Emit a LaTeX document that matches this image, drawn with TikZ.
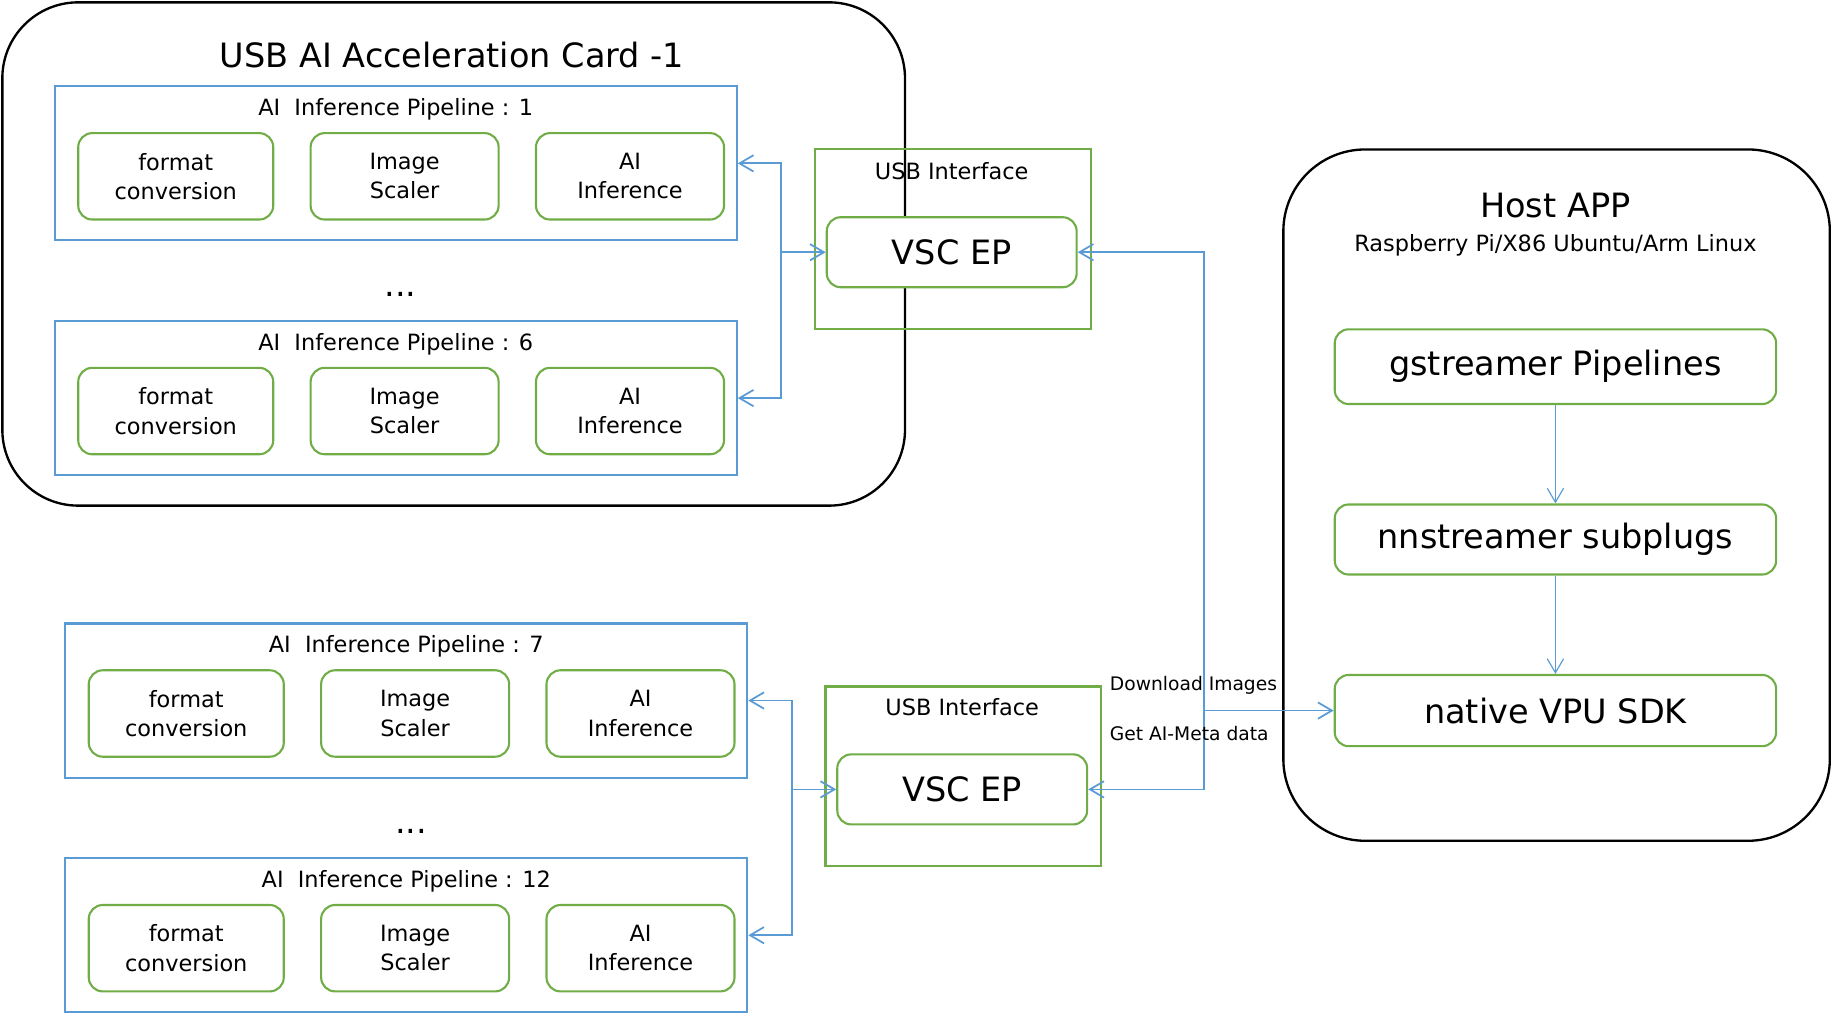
\documentclass[tikz,border=0pt]{standalone}
\usepackage{fontspec}
\setmainfont{DejaVu Sans}
\usepackage{tikz}
\usetikzlibrary{positioning,calc,arrows.meta}
\definecolor{pipeblue}{HTML}{5B9BD5}
\definecolor{stagegreen}{HTML}{70AD47}

\begin{document}
\begin{tikzpicture}[x=1pt, y=-1pt,
    big/.style={font=\fontsize{28.7}{34}\selectfont},
    txt/.style={font=\fontsize{19.2}{25}\selectfont},
    note/.style={font=\fontsize{16}{19}\selectfont},
    card/.style={draw=black, line width=2pt, rounded corners=#1, inner sep=0pt},
    pipe/.style={draw=pipeblue, line width=1.8pt, minimum width=584pt, minimum height=132pt, inner sep=0pt},
    stage/.style={draw=stagegreen, line width=1.8pt, rounded corners=12pt, minimum height=74pt, align=center, txt, inner sep=0pt},
    usbif/.style={draw=stagegreen, line width=1.8pt, minimum width=236pt, minimum height=154pt, inner sep=0pt},
    ep/.style={draw=stagegreen, fill=white, line width=1.8pt, rounded corners=12pt, minimum width=214pt, minimum height=60pt, big},
    hostblk/.style={draw=stagegreen, line width=1.8pt, rounded corners=12pt, minimum width=378pt, big},
    flow/.style={draw=pipeblue, line width=1.5pt, -{Straight Barb[length=12pt, width=14pt]}},
  ]
  \useasboundingbox (0,0) rectangle (1568,867.5);

  % Acceleration card
  \node[card=65pt, minimum width=773pt, minimum height=431pt, anchor=north west] (card1) at (1,1) {};
  \node[big, anchor=base] (card1-title) at (387,58) {USB AI Acceleration Card -1};

  % Pipelines
  \foreach \pname/\px/\py/\pnum in {p1/46/73/1, p6/46/274/6, p7/55/533/7, p12/55/734/12}{
    \node[pipe, anchor=north west] (\pname) at (\px,\py) {};
    \node[txt, anchor=base] (\pname-title) at ($(\pname.north)+(0,26)$) {AI\ \ Inference Pipeline : \pnum};
    \node[stage, minimum width=167pt] (\pname-fc) at ($(\pname.north west)+(104.5,78)$) {format\\conversion};
    \node[stage, minimum width=161pt] (\pname-sc) at ($(\pname.north west)+(300.5,78)$) {Image\\Scaler};
    \node[stage, minimum width=161pt] (\pname-ai) at ($(\pname.north west)+(493.5,78)$) {AI\\Inference};
  }
  \node[big] (dots1) at (343,252) {...};
  \node[big] (dots2) at (352,712) {...};

  % USB interfaces
  \node[usbif, anchor=north west] (usb1) at (697,127) {};
  \node[txt, anchor=base] (usb1-label) at (815,154) {USB Interface};
  \node[ep] (vsc1) at (815,216) {VSC EP};
  \node[usbif, anchor=north west] (usb2) at (706,587) {};
  \node[txt, anchor=base] (usb2-label) at (824,613) {USB Interface};
  \node[ep] (vsc2) at (824,676) {VSC EP};

  % Host
  \node[card=70pt, minimum width=468pt, minimum height=592pt, anchor=north west] (host) at (1098,127) {};
  \node[big, anchor=base] (host-title) at (1332,186) {Host APP};
  \node[txt, anchor=base] (host-sub) at (1332,215) {Raspberry Pi/X86 Ubuntu/Arm Linux};
  \node[hostblk, minimum height=64pt] (gst) at (1332,314) {gstreamer Pipelines};
  \node[hostblk, minimum height=60pt] (nns) at (1332,462) {nnstreamer subplugs};
  \node[hostblk, minimum height=61pt] (sdk) at (1332,608.5) {native VPU SDK};
  \draw[flow, line width=1pt] (gst) -- (nns);
  \draw[flow, line width=1pt] (nns) -- (sdk);

  % Links
  \coordinate (bus1) at (669,216);
  \draw[flow] (bus1) |- (p1.east);
  \draw[flow] (bus1) |- (p6.east);
  \draw[flow] (bus1) -- (vsc1.west);
  \coordinate (bus2) at (678,676);
  \draw[flow] (bus2) |- (p7.east);
  \draw[flow] (bus2) |- (p12.east);
  \draw[flow] (bus2) -- (vsc2.west);
  \coordinate (hub) at ($(sdk.west)+(-111,0)$);
  \draw[flow] (hub) |- (vsc1.east);
  \draw[flow] (hub) |- (vsc2.east);
  \draw[flow] (hub) -- (sdk.west);
  \node[note, anchor=base west] (dl) at (947,591) {Download Images};
  \node[note, anchor=base west] (meta) at (947,634) {Get AI-Meta data};
\end{tikzpicture}
\end{document}
